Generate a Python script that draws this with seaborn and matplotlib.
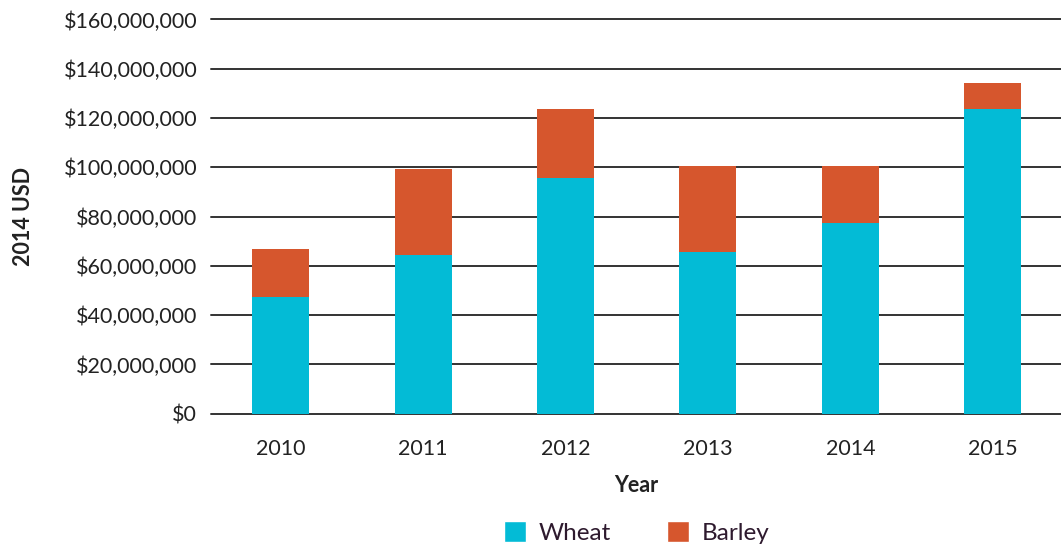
import matplotlib
matplotlib.use('Agg')
import matplotlib.pyplot as plt
import matplotlib.ticker as mticker
from matplotlib.patches import Patch
import numpy as np
import seaborn as sns

# dados
anos = ['2010', '2011', '2012', '2013', '2014', '2015']
wheat = np.array([47.2, 64.6, 95.8, 65.7, 77.2, 123.6]) * 1e6
barley = np.array([19.6, 34.6, 27.8, 34.7, 23.2, 10.6]) * 1e6

cor_wheat = '#03BBD6'
cor_barley = '#D6562D'

sns.set_theme(style='white')
plt.rcParams['font.family'] = ['Lato', 'DejaVu Sans']

fig = plt.figure(figsize=(10.61, 5.48), dpi=100)
ax = fig.add_axes([0.199, 0.245, 0.801, 0.7195])

# barras empilhadas: total (barley) por baixo, wheat por cima
sns.barplot(x=anos, y=wheat + barley, color=cor_barley, width=0.4,
            saturation=1, linewidth=0, ax=ax, zorder=3)
sns.barplot(x=anos, y=wheat, color=cor_wheat, width=0.4,
            saturation=1, linewidth=0, ax=ax, zorder=4)

ax.set_ylim(0, 160e6)
ax.set_xlim(-0.49, 5.48)
ax.set_yticks(np.arange(0, 160e6 + 1, 20e6))
ax.yaxis.set_major_formatter(mticker.FuncFormatter(lambda v, p: f'${v:,.0f}'))
ax.grid(axis='y', color='#333333', linewidth=1.4, zorder=0)
ax.grid(axis='x', visible=False)
for g in ax.get_ygridlines():
    g.set_clip_on(False)
for s in ax.spines.values():
    s.set_visible(False)

ax.tick_params(axis='y', length=0, pad=10, labelsize=15.5, labelcolor='#222222')
ax.tick_params(axis='x', length=0, pad=18, labelsize=15.5, labelcolor='#222222')
ax.set_xlabel('Year', fontsize=15.5, fontweight='bold', color='#222222', labelpad=12)
ax.set_ylabel('2014 USD', fontsize=15.5, fontweight='bold', color='#222222', labelpad=21)

handles = [Patch(facecolor=cor_wheat, label='Wheat'),
           Patch(facecolor=cor_barley, label='Barley')]
fig.legend(handles=handles, loc='center', bbox_to_anchor=(0.6, 0.028), ncol=2,
           frameon=False, fontsize=17.5, handlelength=0.92, handleheight=0.92,
           columnspacing=2.3, handletextpad=0.5, labelcolor='#2E1A2E')

fig.savefig('out.png', dpi=100)
